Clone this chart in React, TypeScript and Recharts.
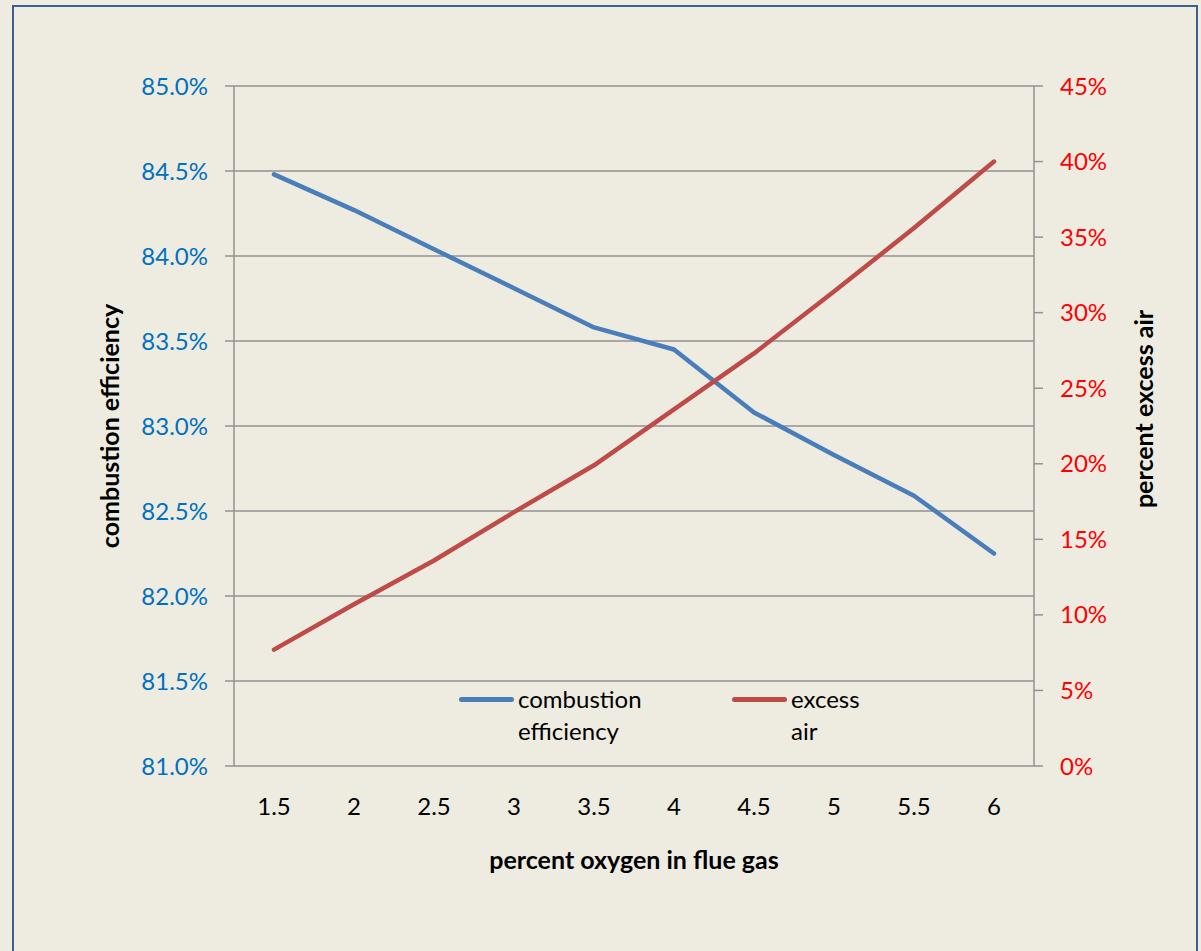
import { LineChart, Line, XAxis, YAxis, CartesianGrid, Legend } from 'recharts';

const oxygen = [1.5, 2, 2.5, 3, 3.5, 4, 4.5, 5, 5.5, 6];
const efficiency = [84.48, 84.27, 84.04, 83.81, 83.58, 83.45, 83.08, 82.83, 82.59, 82.25];
const excessAir = [7.7, 10.7, 13.6, 16.8, 19.9, 23.6, 27.3, 31.4, 35.6, 40.0];
const effTicks = [81, 81.5, 82, 82.5, 83, 83.5, 84, 84.5, 85];
const airTicks = [0, 5, 10, 15, 20, 25, 30, 35, 40, 45];

const halfStep = (oxygen[1] - oxygen[0]) / 2;
const edgeTicks = [...oxygen.map((v) => v - halfStep), oxygen[oxygen.length - 1] + halfStep];
const xDomain = [edgeTicks[0], edgeTicks[edgeTicks.length - 1]];

const data = oxygen.map((o, i) => ({
  o2: o,
  efficiency: efficiency[i],
  excessAir: excessAir[i],
}));

const FONT = 'Lato, "Open Sans", sans-serif';
const AXIS = '#929292';
const BLUE = '#4A7EBB';
const RED = '#BE4B48';
const TICK_SIZE = 24;
const TITLE_SIZE = 25;

function LeftTitle(props: any) {
  const vb = props.viewBox || { x: 0, y: 86, width: 234, height: 680 };
  const cx = vb.x + 109;
  const cy = vb.y + vb.height / 2;
  return (
    <text
      x={cx}
      y={cy}
      transform={`rotate(-90 ${cx} ${cy})`}
      textAnchor="middle"
      dominantBaseline="central"
      fontFamily={FONT}
      fontWeight="bold"
      fontSize={TITLE_SIZE}
      fill="#000"
    >
      combustion efficiency
    </text>
  );
}

function RightTitle(props: any) {
  const vb = props.viewBox || { x: 1034, y: 86, width: 167, height: 680 };
  const cx = vb.x + 109;
  const cy = vb.y + vb.height / 2 - 17;
  return (
    <text
      x={cx}
      y={cy}
      transform={`rotate(-90 ${cx} ${cy})`}
      textAnchor="middle"
      dominantBaseline="central"
      fontFamily={FONT}
      fontWeight="bold"
      fontSize={TITLE_SIZE}
      fill="#000"
    >
      percent excess air
    </text>
  );
}

function BottomTitle(props: any) {
  const vb = props.viewBox || { x: 234, y: 766, width: 800, height: 185 };
  return (
    <text
      x={vb.x + vb.width / 2}
      y={vb.y + 93}
      textAnchor="middle"
      dominantBaseline="central"
      fontFamily={FONT}
      fontWeight="bold"
      fontSize={TITLE_SIZE}
      fill="#000"
    >
      percent oxygen in flue gas
    </text>
  );
}

const legendItems = [
  { key: 'efficiency', label: 'combustion efficiency', color: BLUE, width: 273, textWidth: 150 },
  { key: 'excessAir', label: 'excess air', color: RED, width: 160, textWidth: 85 },
];

function CustomLegend() {
  return (
    <div style={{ display: 'flex', fontFamily: FONT, fontSize: TICK_SIZE, lineHeight: '32px', color: '#000' }}>
      {legendItems.map((item) => (
        <div key={item.key} style={{ display: 'flex', alignItems: 'flex-start', width: item.width }}>
          <span
            style={{
              display: 'inline-block',
              width: 55,
              height: 5,
              borderRadius: 3,
              backgroundColor: item.color,
              marginTop: 14,
              marginRight: 4,
              flexShrink: 0,
            }}
          />
          <span style={{ width: item.textWidth }}>{item.label}</span>
        </div>
      ))}
    </div>
  );
}

export default function App() {
  return (
    <div
      style={{
        position: 'absolute',
        left: 0,
        top: 0,
        width: 1201,
        height: 951,
        background: '#EEECE1',
        overflow: 'hidden',
        fontFamily: FONT,
      }}
    >
      <div
        style={{
          position: 'absolute',
          left: 12,
          top: 5,
          width: 1186,
          height: 1200,
          border: '2px solid #3B5F8F',
          boxSizing: 'border-box',
        }}
      />
      <div style={{ position: 'absolute', left: 0, top: 0 }}>
        <LineChart width={1201} height={951} data={data} margin={{ top: 86, right: 0, bottom: 0, left: 0 }}>
          <CartesianGrid xAxisId="x" yAxisId="left" vertical={false} stroke={AXIS} strokeWidth={1.5} />
          <XAxis
            xAxisId="edges"
            type="number"
            dataKey="o2"
            domain={xDomain}
            allowDataOverflow
            ticks={edgeTicks}
            interval={0}
            tick={false}
            tickSize={7}
            height={0}
            stroke={AXIS}
            strokeWidth={1.5}
          />
          <XAxis
            xAxisId="x"
            type="number"
            dataKey="o2"
            domain={xDomain}
            allowDataOverflow
            ticks={oxygen}
            interval={0}
            axisLine={false}
            tickLine={false}
            tickSize={0}
            tickMargin={32}
            height={185}
            tick={{ fill: '#000', fontSize: TICK_SIZE, fontFamily: FONT }}
            label={<BottomTitle />}
          />
          <YAxis
            yAxisId="left"
            orientation="left"
            width={234}
            domain={[81, 85]}
            ticks={effTicks}
            interval={0}
            tickSize={9}
            tickMargin={17}
            stroke={AXIS}
            strokeWidth={1.5}
            tick={{ fill: '#0070C0', fontSize: TICK_SIZE, fontFamily: FONT }}
            tickFormatter={(v: number) => `${v.toFixed(1)}%`}
            label={<LeftTitle />}
          />
          <YAxis
            yAxisId="right"
            orientation="right"
            width={167}
            domain={[0, 45]}
            ticks={airTicks}
            interval={0}
            tickSize={9}
            tickMargin={17}
            stroke={AXIS}
            strokeWidth={1.5}
            tick={{ fill: '#FF0000', fontSize: TICK_SIZE, fontFamily: FONT }}
            tickFormatter={(v: number) => `${v}%`}
            label={<RightTitle />}
          />
          <Legend
            layout="horizontal"
            verticalAlign="middle"
            align="center"
            content={<CustomLegend />}
            wrapperStyle={{ left: 459, top: 683, width: 'auto' }}
          />
          <Line
            xAxisId="x"
            yAxisId="left"
            type="linear"
            dataKey="efficiency"
            name="combustion efficiency"
            stroke={BLUE}
            strokeWidth={4.5}
            strokeLinecap="round"
            strokeLinejoin="round"
            dot={false}
            activeDot={false}
            isAnimationActive={false}
          />
          <Line
            xAxisId="x"
            yAxisId="right"
            type="linear"
            dataKey="excessAir"
            name="excess air"
            stroke={RED}
            strokeWidth={4.5}
            strokeLinecap="round"
            strokeLinejoin="round"
            dot={false}
            activeDot={false}
            isAnimationActive={false}
          />
        </LineChart>
      </div>
    </div>
  );
}
